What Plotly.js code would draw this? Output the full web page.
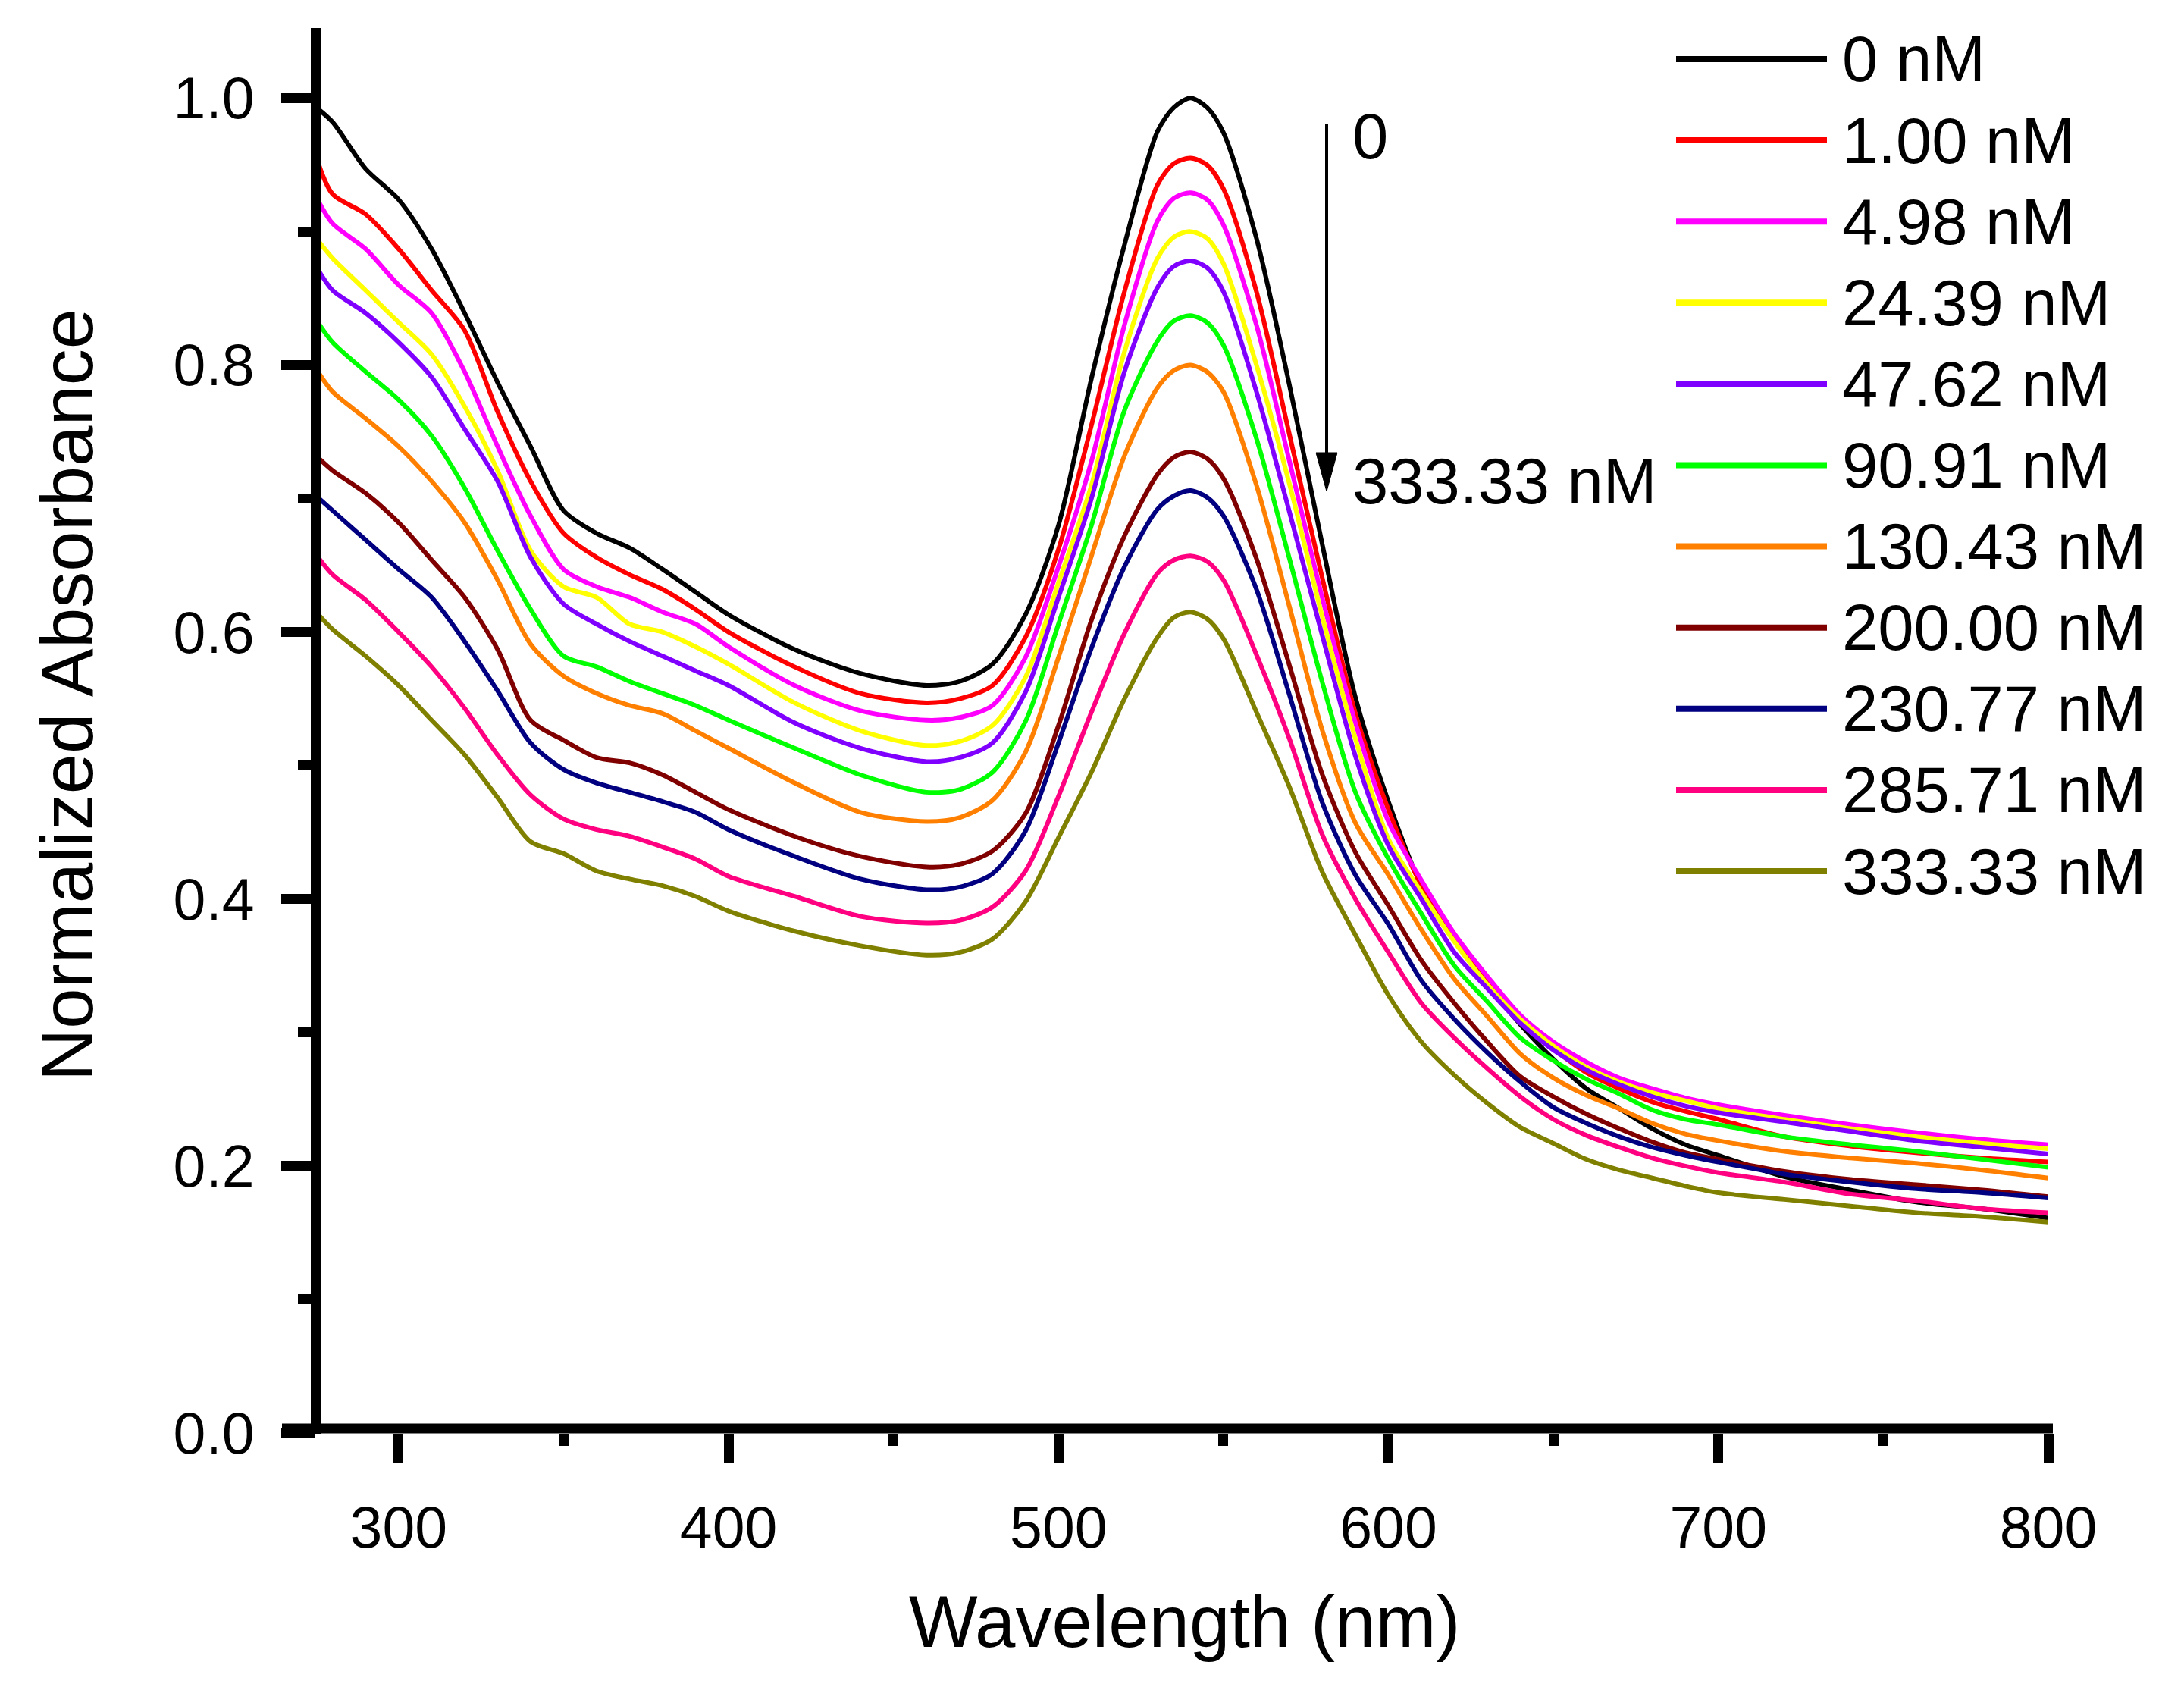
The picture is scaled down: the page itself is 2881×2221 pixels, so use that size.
<!DOCTYPE html>
<html>
<head>
<meta charset="utf-8">
<script src="https://cdn.plot.ly/plotly-3.0.1.min.js"></script>
<style>
html,body{margin:0;padding:0;background:#fff;}
#chart{width:2881px;height:2221px;}
</style>
</head>
<body>
<div id="chart"></div>
<script>
// ---- data ----
const wavelength = [275,280,290,300,310,320,330,340,350,360,370,380,390,400,420,440,460,
  470,480,490,500,510,520,530,535,540,545,550,560,570,580,590,600,610,620,630,640,650,660,670,680,690,700,
  720,740,760,780,800];

const abs_0 = [0.993,0.982,0.947,0.924,0.887,0.839,0.787,0.739,0.691,0.674,0.663,0.647,0.630,0.613,0.587,0.569,0.560,
  0.563,0.576,0.613,0.680,0.790,0.890,0.975,0.993,1.000,0.993,0.974,0.895,0.785,0.665,0.551,0.473,0.410,0.371,0.336,0.306,0.280,0.258,0.243,0.228,0.216,0.208,
  0.192,0.182,0.173,0.168,0.161];
const abs_1_00 = [0.956,0.928,0.913,0.887,0.856,0.826,0.765,0.713,0.674,0.656,0.643,0.632,0.617,0.600,0.574,0.554,0.547,
  0.550,0.560,0.596,0.662,0.755,0.855,0.935,0.951,0.955,0.950,0.932,0.855,0.748,0.640,0.539,0.467,0.410,0.370,0.337,0.310,0.288,0.270,0.258,0.248,0.241,0.235,
  0.222,0.215,0.210,0.206,0.203];
const abs_4_98 = [0.926,0.906,0.887,0.860,0.839,0.795,0.739,0.687,0.647,0.634,0.626,0.615,0.606,0.589,0.560,0.541,0.534,
  0.536,0.545,0.581,0.649,0.728,0.830,0.908,0.925,0.929,0.924,0.905,0.830,0.728,0.625,0.532,0.458,0.414,0.374,0.342,0.313,0.293,0.278,0.266,0.258,0.251,0.246,
  0.238,0.231,0.225,0.220,0.216];
const abs_24_39 = [0.895,0.880,0.856,0.832,0.808,0.769,0.721,0.661,0.634,0.626,0.606,0.600,0.589,0.576,0.547,0.526,0.515,
  0.518,0.530,0.566,0.637,0.710,0.810,0.880,0.896,0.900,0.895,0.876,0.800,0.711,0.611,0.520,0.445,0.405,0.368,0.336,0.310,0.290,0.274,0.263,0.255,0.249,0.243,
  0.235,0.228,0.222,0.217,0.213];
const abs_47_62 = [0.874,0.856,0.839,0.817,0.791,0.752,0.713,0.656,0.621,0.606,0.593,0.582,0.571,0.560,0.532,0.513,0.503,
  0.506,0.517,0.555,0.626,0.700,0.795,0.858,0.874,0.878,0.873,0.855,0.780,0.690,0.597,0.507,0.440,0.400,0.360,0.333,0.307,0.287,0.272,0.261,0.252,0.245,0.240,
  0.233,0.226,0.219,0.214,0.209];
const abs_90_91 = [0.834,0.817,0.795,0.774,0.747,0.708,0.661,0.617,0.582,0.574,0.563,0.554,0.545,0.534,0.513,0.493,0.480,
  0.482,0.495,0.533,0.606,0.680,0.766,0.818,0.833,0.837,0.832,0.815,0.745,0.655,0.562,0.480,0.430,0.389,0.350,0.323,0.296,0.279,0.265,0.254,0.242,0.235,0.231,
  0.222,0.216,0.211,0.205,0.199];
const abs_130_43 = [0.797,0.780,0.760,0.739,0.713,0.682,0.639,0.591,0.567,0.554,0.545,0.539,0.526,0.513,0.487,0.465,0.458,
  0.461,0.474,0.510,0.581,0.657,0.732,0.783,0.796,0.800,0.795,0.780,0.710,0.619,0.526,0.457,0.418,0.377,0.340,0.312,0.284,0.266,0.253,0.243,0.232,0.224,0.219,
  0.211,0.206,0.202,0.197,0.191];
const abs_200_00 = [0.732,0.721,0.704,0.682,0.654,0.626,0.587,0.534,0.519,0.506,0.502,0.493,0.480,0.467,0.447,0.432,0.424,
  0.426,0.436,0.464,0.530,0.609,0.672,0.718,0.731,0.735,0.730,0.715,0.655,0.575,0.493,0.435,0.395,0.354,0.322,0.293,0.267,0.252,0.239,0.228,0.218,0.210,0.205,
  0.196,0.190,0.186,0.182,0.177];
const abs_230_77 = [0.702,0.691,0.669,0.647,0.626,0.593,0.556,0.517,0.497,0.487,0.480,0.473,0.465,0.452,0.432,0.415,0.407,
  0.409,0.419,0.451,0.517,0.588,0.649,0.692,0.702,0.706,0.701,0.687,0.632,0.553,0.472,0.418,0.381,0.339,0.310,0.285,0.263,0.244,0.232,0.222,0.214,0.208,0.203,
  0.194,0.188,0.183,0.180,0.176];
const abs_285_71 = [0.658,0.643,0.624,0.600,0.574,0.543,0.508,0.478,0.460,0.452,0.447,0.439,0.430,0.417,0.402,0.387,0.382,
  0.384,0.394,0.421,0.477,0.540,0.599,0.644,0.654,0.657,0.653,0.639,0.583,0.520,0.448,0.400,0.360,0.322,0.296,0.273,0.252,0.235,0.223,0.214,0.206,0.200,0.195,
  0.188,0.179,0.174,0.168,0.165];
const abs_333_33 = [0.615,0.602,0.582,0.560,0.534,0.508,0.476,0.443,0.434,0.421,0.415,0.410,0.402,0.391,0.376,0.365,0.358,
  0.360,0.370,0.398,0.446,0.495,0.550,0.596,0.611,0.615,0.610,0.595,0.540,0.484,0.420,0.373,0.328,0.293,0.268,0.247,0.229,0.217,0.205,0.197,0.191,0.185,0.180,
  0.175,0.170,0.165,0.162,0.158];

const seriesNames = ['0 nM','1.00 nM','4.98 nM','24.39 nM','47.62 nM','90.91 nM','130.43 nM','200.00 nM','230.77 nM','285.71 nM','333.33 nM'];
const seriesValues = [abs_0,abs_1_00,abs_4_98,abs_24_39,abs_47_62,abs_90_91,abs_130_43,abs_200_00,abs_230_77,abs_285_71,abs_333_33];
const seriesColors = ['#000000','#FF0000','#FF00FF','#FFFF00','#8000FF','#00FF00','#FF8000','#800000','#000080','#FF0080','#808000'];

const xTitle = 'Wavelength (nm)';
const yTitle = 'Normalized Absorbance';
const arrowTop = '0';
const arrowBottom = '333.33 nM';

// ---- layout geometry (pixels) ----
const W = 2881, H = 2221;
const ML = 417, MR = 179, MT = 36, MB = 331;
const PW = W - ML - MR, PH = H - MT - MB;
const px = v => (v - ML) / PW;          // pixel x -> paper
const py = v => (H - MB - v) / PH;      // pixel y -> paper
const FONT = 'Liberation Sans, Arial, sans-serif';

const traces = seriesValues.map((vals, i) => ({
  type: 'scatter', mode: 'lines', x: wavelength, y: vals, name: seriesNames[i],
  line: {color: seriesColors[i], width: 6, shape: 'spline', smoothing: 0.8},
  showlegend: false
}));

const shapes = [
  // y axis line
  {type:'line', xref:'paper', yref:'paper', x0:px(416.5), x1:px(416.5), y0:py(1891), y1:py(37), line:{color:'#000', width:13}},
  // x axis line (extends to the left tick end, as in the original)
  {type:'line', xref:'paper', yref:'paper', x0:px(372), x1:px(2708), y0:py(1884), y1:py(1884), line:{color:'#000', width:13}},
  // arrow shaft
  {type:'line', xref:'paper', yref:'paper', x0:px(1750), x1:px(1750), y0:py(163), y1:py(605), line:{color:'#000', width:4}},
  // arrow head
  {type:'path', xref:'paper', yref:'paper',
   path:`M ${px(1736)} ${py(597)} L ${px(1764)} ${py(597)} L ${px(1750)} ${py(648)} Z`,
   fillcolor:'#000', line:{color:'#000', width:1}}
];

const annotations = [
  {xref:'paper', yref:'paper', x:px(1562), y:py(2138), text:xTitle, showarrow:false,
   xanchor:'center', yanchor:'middle', font:{family:FONT, size:96, color:'#000'}},
  {xref:'paper', yref:'paper', x:px(88), y:py(917), text:yTitle, showarrow:false, textangle:-90,
   xanchor:'center', yanchor:'middle', font:{family:FONT, size:96, color:'#000'}},
  {xref:'paper', yref:'paper', x:px(1782), y:py(180), text:arrowTop, showarrow:false,
   xanchor:'left', yanchor:'middle', font:{family:FONT, size:85, color:'#000'}},
  {xref:'paper', yref:'paper', x:px(1782), y:py(634), text:arrowBottom, showarrow:false,
   xanchor:'left', yanchor:'middle', font:{family:FONT, size:85, color:'#000'}}
];

// custom legend: long line samples + labels
seriesNames.forEach((nm, i) => {
  const yy = 78 + i * 107.1;
  shapes.push({type:'line', xref:'paper', yref:'paper', x0:px(2211), x1:px(2410), y0:py(yy), y1:py(yy),
    line:{color:seriesColors[i], width:8}});
  annotations.push({xref:'paper', yref:'paper', x:px(2428), y:py(yy), text:nm, showarrow:false,
    xanchor:'left', yanchor:'middle', font:{family:FONT, size:85, color:'#000'}});
});

const layout = {
  width: W, height: H,
  margin: {l: ML, r: MR, t: MT, b: MB, pad: 0},
  paper_bgcolor: '#fff', plot_bgcolor: '#fff',
  showlegend: false,
  font: {family: FONT, color: '#000'},
  xaxis: {
    range: [275, 800], tick0: 300, dtick: 100,
    showline: false, showgrid: false, zeroline: false,
    ticks: 'outside', ticklen: 38, tickwidth: 13, tickcolor: '#000',
    tickfont: {family: FONT, size: 77, color: '#000'},
    ticklabelstandoff: 20,
    minor: {ticks: 'outside', ticklen: 16, tickwidth: 13, tickcolor: '#000', dtick: 50, tick0: 300, showgrid: false}
  },
  yaxis: {
    range: [0, 1.053], tick0: 0, dtick: 0.2, tickformat: '.1f',
    showline: false, showgrid: false, zeroline: false,
    ticks: 'outside', ticklen: 45, tickwidth: 13, tickcolor: '#000',
    tickfont: {family: FONT, size: 77, color: '#000'},
    ticklabelstandoff: 20,
    minor: {ticks: 'outside', ticklen: 23, tickwidth: 13, tickcolor: '#000', dtick: 0.1, tick0: 0, showgrid: false}
  },
  shapes: shapes,
  annotations: annotations
};

Plotly.newPlot('chart', traces, layout, {staticPlot: true, displayModeBar: false});
</script>
</body>
</html>
